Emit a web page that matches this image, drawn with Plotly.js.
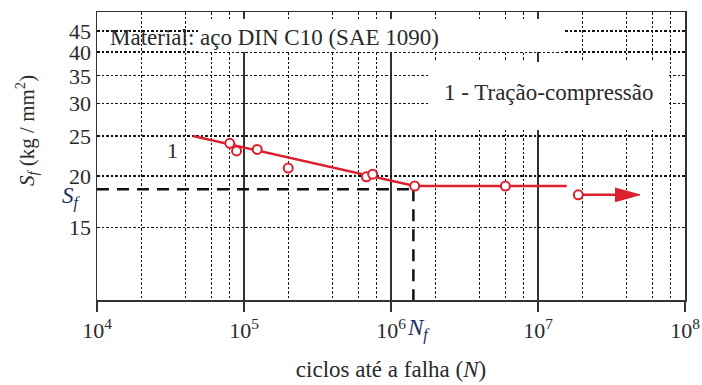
<!DOCTYPE html>
<html>
<head>
<meta charset="utf-8">
<script src="https://cdn.plot.ly/plotly-3.0.1.min.js"></script>
<style>html,body{margin:0;padding:0;background:#fff;}#chart{width:702px;height:385px;}</style>
</head>
<body>
<div id="chart"></div>
<script>
// Experimental points (cycles to failure, stress kg/mm²)
const cycles = [8.0e4, 8.9e4, 1.23e5, 2.0e5, 6.8e5, 7.5e5, 1.45e6, 6.0e6, 1.88e7];
const stress = [24.0, 23.0, 23.2, 20.9, 19.9, 20.2, 18.9, 18.9, 18.0];
// Fitted S-N curve (curve 1)
const fitN = [4.5e4, 1.45e6, 1.57e7];
const fitS = [25.0, 18.9, 18.9];
// Run-out arrow
const arrowN = [1.88e7, 3.6e7];
const arrowS = [18.0, 18.0];
const headN = [3.34e7, 4.94e7, 3.34e7];
const headS = [17.32, 18.0, 18.70];
// Fatigue limit
const Sf = 18.57;
const Nf = 1.42e6;
const yMin = 10;
// Axis ticks
const xTickVals = [1e4, 1e5, 1e6, 1e7, 1e8];
const xTickText = ['10<sup>4</sup>', '10<sup>5</sup>', '10<sup>6</sup>', '10<sup>7</sup>', '10<sup>8</sup>'];
const xMinorVals = [2e4,4e4,6e4,8e4, 2e5,4e5,6e5,8e5, 2e6,4e6,6e6,8e6, 2e7,4e7,6e7,8e7];
const yTickVals = [15, 20, 25, 30, 35, 40, 45];

const red = '#dc1f2d';
const txt = '#2a2a2a';
const serif = '"Liberation Serif", "DejaVu Serif", "Times New Roman", Times, serif';

const traces = [
  {x: [xTickVals[0], Nf], y: [Sf, Sf], mode: 'lines', line: {color: '#111', width: 2.5, dash: '12px,8px'}, hoverinfo: 'skip'},
  {x: [Nf, Nf], y: [Sf, yMin], mode: 'lines', line: {color: '#111', width: 2.5, dash: '12px,8px'}, hoverinfo: 'skip'},
  {x: fitN, y: fitS, mode: 'lines', line: {color: red, width: 2.5}},
  {x: arrowN, y: arrowS, mode: 'lines', line: {color: red, width: 2.5}},
  {x: headN, y: headS, mode: 'lines', fill: 'toself', fillcolor: red, line: {color: red, width: 1}},
  {x: cycles, y: stress, mode: 'markers', marker: {symbol: 'circle', size: 9, color: '#fff', line: {color: red, width: 2}}}
];

function box(cx, cy, w, h) {
  return {xref: 'paper', yref: 'paper', x: cx, y: cy, xanchor: 'center', yanchor: 'middle',
          text: ' ', showarrow: false, width: w, height: h, bgcolor: '#fff',
          borderpad: 0, borderwidth: 0, font: {size: 2}};
}

const layout = {
  width: 702, height: 385,
  margin: {l: 97, r: 17, t: 12, b: 85},
  paper_bgcolor: '#fff', plot_bgcolor: '#fff',
  showlegend: false,
  font: {family: serif, color: txt, size: 20},
  xaxis: {
    type: 'log', range: [4, 8],
    tickmode: 'array', tickvals: xTickVals, ticktext: xTickText,
    ticks: 'outside', ticklen: 10, tickwidth: 1.5, tickcolor: '#333',
    showline: true, linecolor: '#333', linewidth: 1.5, mirror: true,
    showgrid: true, gridcolor: '#333', gridwidth: 1.2,
    minor: {tickmode: 'array', tickvals: xMinorVals, showgrid: true, gridcolor: '#111', gridwidth: 1.3, griddash: '2.5px,2px', ticks: ''},
    tickfont: {family: serif, size: 22, color: txt},
    title: {text: 'ciclos até a falha (<i>N</i>)', font: {family: serif, size: 23, color: txt}, standoff: 19},
    zeroline: false
  },
  yaxis: {
    type: 'log', range: [1, Math.log10(50)],
    tickmode: 'array', tickvals: yTickVals, ticktext: yTickVals.map(String),
    ticks: '', showline: true, linecolor: '#333', linewidth: 1.5, mirror: true,
    showgrid: true, gridcolor: '#111', gridwidth: 1.3, griddash: '2.5px,2px',
    tickfont: {family: serif, size: 22, color: txt},
    zeroline: false
  },
  annotations: [
    box(0.4821, 0.9201, 365, 33),
    box(0.7687, 0.7083, 238, 68),
    {xref: 'paper', yref: 'paper', x: -0.119, y: 0.587, xanchor: 'center', yanchor: 'middle', textangle: -90, text: '<i>S</i><sub><i>f</i></sub> (kg / mm<sup>2</sup>)', showarrow: false, font: {family: serif, size: 21, color: txt}},
    {xref: 'paper', yref: 'paper', x: 0.3019, y: 0.913, xanchor: 'center', yanchor: 'middle', text: 'Material: aço DIN C10 (SAE 1090)', showarrow: false, font: {family: serif, size: 23, color: txt}},
    {xref: 'paper', yref: 'paper', x: 0.7679, y: 0.7222, xanchor: 'center', yanchor: 'middle', text: '1 - Tração-compressão', showarrow: false, font: {family: serif, size: 23, color: txt}},
    {xref: 'paper', yref: 'paper', x: 0.1276, y: 0.5208, xanchor: 'center', yanchor: 'middle', text: '1', showarrow: false, font: {family: serif, size: 22, color: txt}},
    {xref: 'paper', yref: 'paper', x: -0.0442, y: 0.3576, xanchor: 'center', yanchor: 'middle', text: '<i>S</i><sub><i>f</i></sub>', showarrow: false, font: {family: serif, size: 23, color: '#1c2a5e'}},
    {xref: 'paper', yref: 'paper', x: 0.546, y: -0.1007, xanchor: 'center', yanchor: 'middle', text: '<i>N</i><sub><i>f</i></sub>', showarrow: false, font: {family: serif, size: 23, color: '#1c2a5e'}}
  ]
};

Plotly.newPlot('chart', traces, layout, {staticPlot: true, displayModeBar: false});
</script>
</body>
</html>
